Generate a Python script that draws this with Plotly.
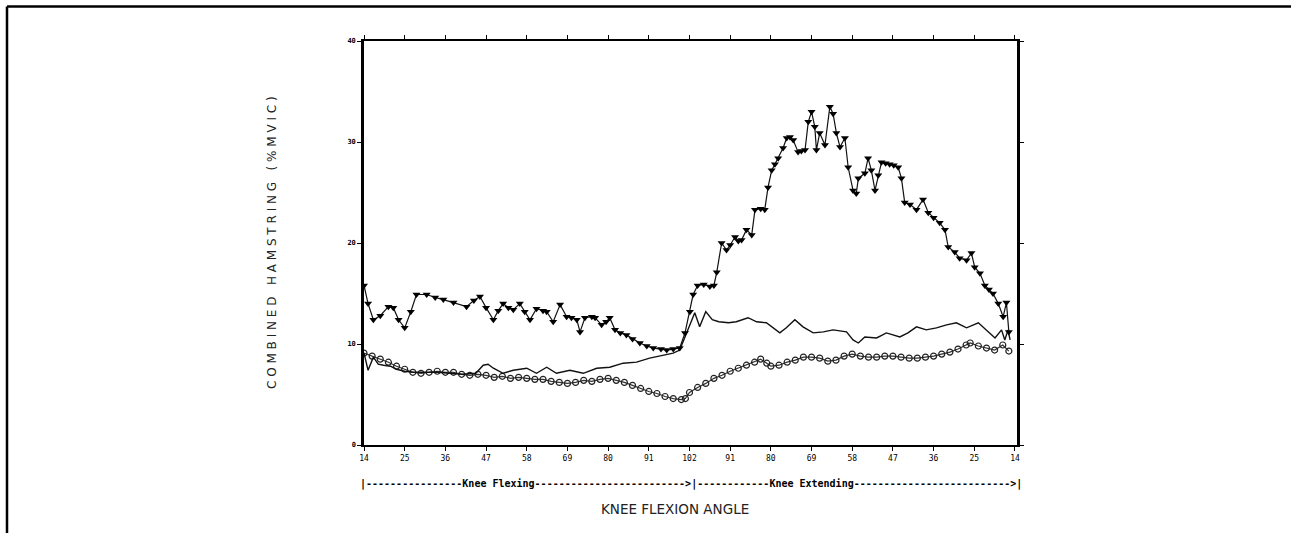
import plotly.graph_objects as go

# x positions are in tick intervals along the flex/extend cycle (0 = 14 deg start, 8 = 102 deg, 16 = 14 deg end)
tick_labels = ["14", "25", "36", "47", "58", "69", "80", "91", "102",
               "91", "80", "69", "58", "47", "36", "25", "14"]
y_ticks = [0, 10, 20, 30, 40]

tri_x = [0, 0.1, 0.23, 0.4, 0.6, 0.72, 0.85, 1.0, 1.15, 1.29, 1.54, 1.75, 1.95, 2.2, 2.52, 2.7, 2.85,
         3.0, 3.18, 3.3, 3.42, 3.55, 3.67, 3.83, 3.95, 4.08, 4.24, 4.4, 4.49, 4.65, 4.82, 4.98, 5.1,
         5.23, 5.31, 5.43, 5.6, 5.68, 5.84, 5.95, 6.04, 6.17, 6.3, 6.45, 6.6, 6.78, 6.95, 7.11, 7.3,
         7.44, 7.6, 7.76, 7.89, 8.01, 8.09, 8.2, 8.35, 8.5, 8.6, 8.67, 8.79, 8.91, 9.0, 9.12, 9.2,
         9.28, 9.4, 9.53, 9.61, 9.75, 9.85, 9.93, 10.02, 10.1, 10.18, 10.3, 10.39, 10.47, 10.55,
         10.67, 10.75, 10.84, 10.92, 11.0, 11.08, 11.12, 11.2, 11.33, 11.45, 11.53, 11.61, 11.7,
         11.82, 11.9, 12.02, 12.1, 12.15, 12.31, 12.39, 12.47, 12.56, 12.64, 12.72, 12.82, 12.92,
         13.02, 13.13, 13.21, 13.29, 13.42, 13.58, 13.74, 13.87, 14.0, 14.15, 14.28, 14.36, 14.52,
         14.64, 14.81, 14.93, 15.01, 15.14, 15.26, 15.36, 15.46, 15.59, 15.71, 15.79, 15.85]
tri_y = [15.8, 14.0, 12.4, 12.8, 13.7, 13.6, 12.4, 11.6, 13.2, 14.9, 14.9, 14.6, 14.4, 14.1, 13.7, 14.3, 14.7,
         13.6, 12.4, 13.3, 14.0, 13.6, 13.4, 14.0, 13.2, 12.4, 13.5, 13.3, 13.2, 12.2, 13.9, 12.7, 12.6,
         12.4, 11.2, 12.6, 12.7, 12.6, 11.9, 12.2, 12.6, 11.4, 11.1, 10.9, 10.5, 10.1, 9.8, 9.6, 9.5,
         9.4, 9.5, 9.6, 11.1, 13.2, 14.9, 15.8, 15.9, 15.7, 15.8, 17.1, 20.0, 19.3, 19.8, 20.6, 20.2,
         20.3, 21.3, 20.8, 23.3, 23.4, 23.3, 25.5, 27.2, 27.8, 28.4, 29.4, 30.4, 30.5, 30.2,
         29.0, 29.1, 29.2, 32.0, 33.0, 31.5, 29.2, 30.9, 29.7, 33.5, 32.8, 30.9, 29.5,
         30.4, 27.5, 25.2, 24.9, 26.4, 26.9, 28.4, 27.2, 25.2, 26.7, 28.0, 27.9, 27.8,
         27.7, 27.5, 26.4, 24.0, 23.8, 23.3, 24.3, 23.0, 22.5, 22.0, 21.3, 19.6, 19.1,
         18.5, 18.3, 19.0, 17.6, 17.0, 15.8, 15.4, 15.0, 14.0, 12.7, 14.1, 11.2]

thin_x = [0, 0.1, 0.23, 0.35, 0.48, 0.65, 0.8, 1.0, 1.2, 1.5, 1.8, 2.1, 2.4, 2.75, 2.93, 3.05, 3.18,
          3.42, 3.67, 4.0, 4.24, 4.49, 4.73, 5.06, 5.39, 5.72, 6.04, 6.37, 6.7, 7.02, 7.35, 7.6, 7.76,
          7.89, 8.01, 8.13, 8.25, 8.4, 8.56, 8.72, 8.96, 9.15, 9.44, 9.65, 9.89, 10.05, 10.22, 10.38,
          10.59, 10.79, 11.04, 11.29, 11.53, 11.86, 12.02, 12.15, 12.31, 12.6, 12.84, 13.17, 13.37,
          13.58, 13.82, 14.07, 14.32, 14.56, 14.81, 15.1, 15.3, 15.51, 15.67, 15.75, 15.83, 15.88]
thin_y = [9.1, 7.4, 8.7, 8.0, 7.9, 7.8, 7.5, 7.3, 7.2, 7.2, 7.2, 7.1, 7.0, 7.1, 7.9, 8.0, 7.6,
          7.1, 7.4, 7.6, 7.1, 7.7, 7.1, 7.4, 7.1, 7.6, 7.7, 8.1, 8.2, 8.6, 8.9, 9.1, 9.4,
          10.7, 12.0, 13.1, 11.7, 13.2, 12.4, 12.2, 12.1, 12.2, 12.6, 12.2, 12.1, 11.6, 11.1, 11.6,
          12.4, 11.7, 11.1, 11.2, 11.4, 11.2, 10.4, 10.1, 10.7, 10.6, 11.1, 10.7, 11.1,
          11.7, 11.4, 11.6, 11.9, 12.1, 11.6, 12.1, 11.4, 10.6, 11.4, 10.4, 11.4, 10.4]

circ_x = [0.0, 0.2, 0.4, 0.6, 0.8, 1.0, 1.2, 1.4, 1.6, 1.8, 2.0, 2.2, 2.4, 2.6, 2.8, 3.0, 3.2, 3.4,
          3.6, 3.8, 4.0, 4.2, 4.4, 4.6, 4.8, 5.0, 5.2, 5.4, 5.6, 5.8, 6.0, 6.2, 6.4, 6.6, 6.8, 7.0,
          7.2, 7.4, 7.6, 7.8, 7.9, 8.0, 8.2, 8.4, 8.6, 8.8, 9.0, 9.2, 9.4, 9.6, 9.75, 9.9, 10.0,
          10.2, 10.4, 10.6, 10.8, 11.0, 11.2, 11.4, 11.6, 11.8, 12.0, 12.2, 12.4, 12.6, 12.8, 13.0,
          13.2, 13.4, 13.6, 13.8, 14.0, 14.2, 14.4, 14.6, 14.8, 14.9, 15.1, 15.3, 15.5, 15.7, 15.85]
circ_y = [9.1, 8.8, 8.5, 8.2, 7.8, 7.5, 7.2, 7.1, 7.2, 7.3, 7.2, 7.2, 7.0, 6.9, 7.0, 6.9, 6.7, 6.8,
          6.6, 6.7, 6.6, 6.5, 6.5, 6.3, 6.2, 6.1, 6.2, 6.4, 6.3, 6.5, 6.6, 6.4, 6.2, 5.9, 5.6, 5.3,
          5.1, 4.8, 4.6, 4.5, 4.6, 5.2, 5.7, 6.1, 6.6, 6.9, 7.3, 7.6, 7.9, 8.2, 8.5, 8.1, 7.8,
          7.9, 8.2, 8.4, 8.7, 8.7, 8.6, 8.3, 8.4, 8.8, 9.0, 8.8, 8.7, 8.7, 8.8, 8.8,
          8.7, 8.6, 8.6, 8.7, 8.8, 9.0, 9.2, 9.5, 9.9, 10.1, 9.8, 9.6, 9.4, 9.9, 9.3]

fig = go.Figure()
fig.add_trace(go.Scatter(x=circ_x, y=circ_y, mode="lines+markers",
                         line=dict(color="#333", width=1.2),
                         marker=dict(symbol="circle-open", size=6, color="#222", line=dict(width=1.2))))
fig.add_trace(go.Scatter(x=thin_x, y=thin_y, mode="lines",
                         line=dict(color="#111", width=1.4)))
fig.add_trace(go.Scatter(x=tri_x, y=tri_y, mode="lines+markers",
                         line=dict(color="#111", width=1.2),
                         marker=dict(symbol="triangle-down", size=7, color="#000")))

L, R, T, B = 364, 1017, 41, 445
W, H = 1291, 533

def px(xp):
    return (xp - L) / (R - L)

def py(yp):
    return (B - yp) / (B - T)

fig.update_layout(
    width=W, height=H,
    margin=dict(l=L, r=W - R, t=T, b=H - B),
    paper_bgcolor="white", plot_bgcolor="white",
    showlegend=False,
    font=dict(family="DejaVu Sans", color="#000"),
    xaxis=dict(range=[0, 16.05], tickvals=list(range(len(tick_labels))), ticktext=tick_labels,
               showgrid=False, zeroline=False, showline=True, linecolor="#000", linewidth=2,
               mirror="ticks", ticks="outside", ticklen=4, tickwidth=1, tickcolor="#000",
               tickfont=dict(family="DejaVu Sans Mono", size=8, color="#000")),
    yaxis=dict(range=[0, 40], tickvals=y_ticks, ticktext=["<b>%d</b>" % v for v in y_ticks],
               showgrid=False, zeroline=False, showline=True, linecolor="#000", linewidth=2.5,
               mirror="ticks", ticks="outside", ticklen=4, tickwidth=1, tickcolor="#000",
               tickfont=dict(family="DejaVu Sans Mono", size=7, color="#000")),
    shapes=[
        dict(type="line", xref="paper", yref="paper", x0=px(7), x1=px(1295), y0=py(6.5), y1=py(6.5),
             line=dict(color="#000", width=2.5)),
        dict(type="line", xref="paper", yref="paper", x0=px(7), x1=px(7), y0=py(6.5), y1=py(540),
             line=dict(color="#000", width=2.5)),
    ],
    annotations=[
        dict(text="C O M B I N E D   H A M S T R I N G   ( % M V I C )", textangle=-90,
             xref="paper", yref="paper", x=px(272), y=0.5, showarrow=False,
             xanchor="center", yanchor="middle", font=dict(family="DejaVu Sans", size=12, color="#222")),
        dict(text="<b>|----------------Knee Flexing------------------------->|------------Knee Extending-------------------------->|</b>",
             xref="paper", yref="paper", x=0.5, y=py(484), showarrow=False,
             xanchor="center", yanchor="middle", font=dict(family="DejaVu Sans Mono", size=10, color="#000")),
        dict(text="KNEE FLEXION ANGLE", xref="paper", yref="paper", x=px(675), y=py(509), showarrow=False,
             xanchor="center", yanchor="middle", font=dict(family="DejaVu Sans", size=13.5, color="#222")),
    ],
)

fig.write_html("out.html")
